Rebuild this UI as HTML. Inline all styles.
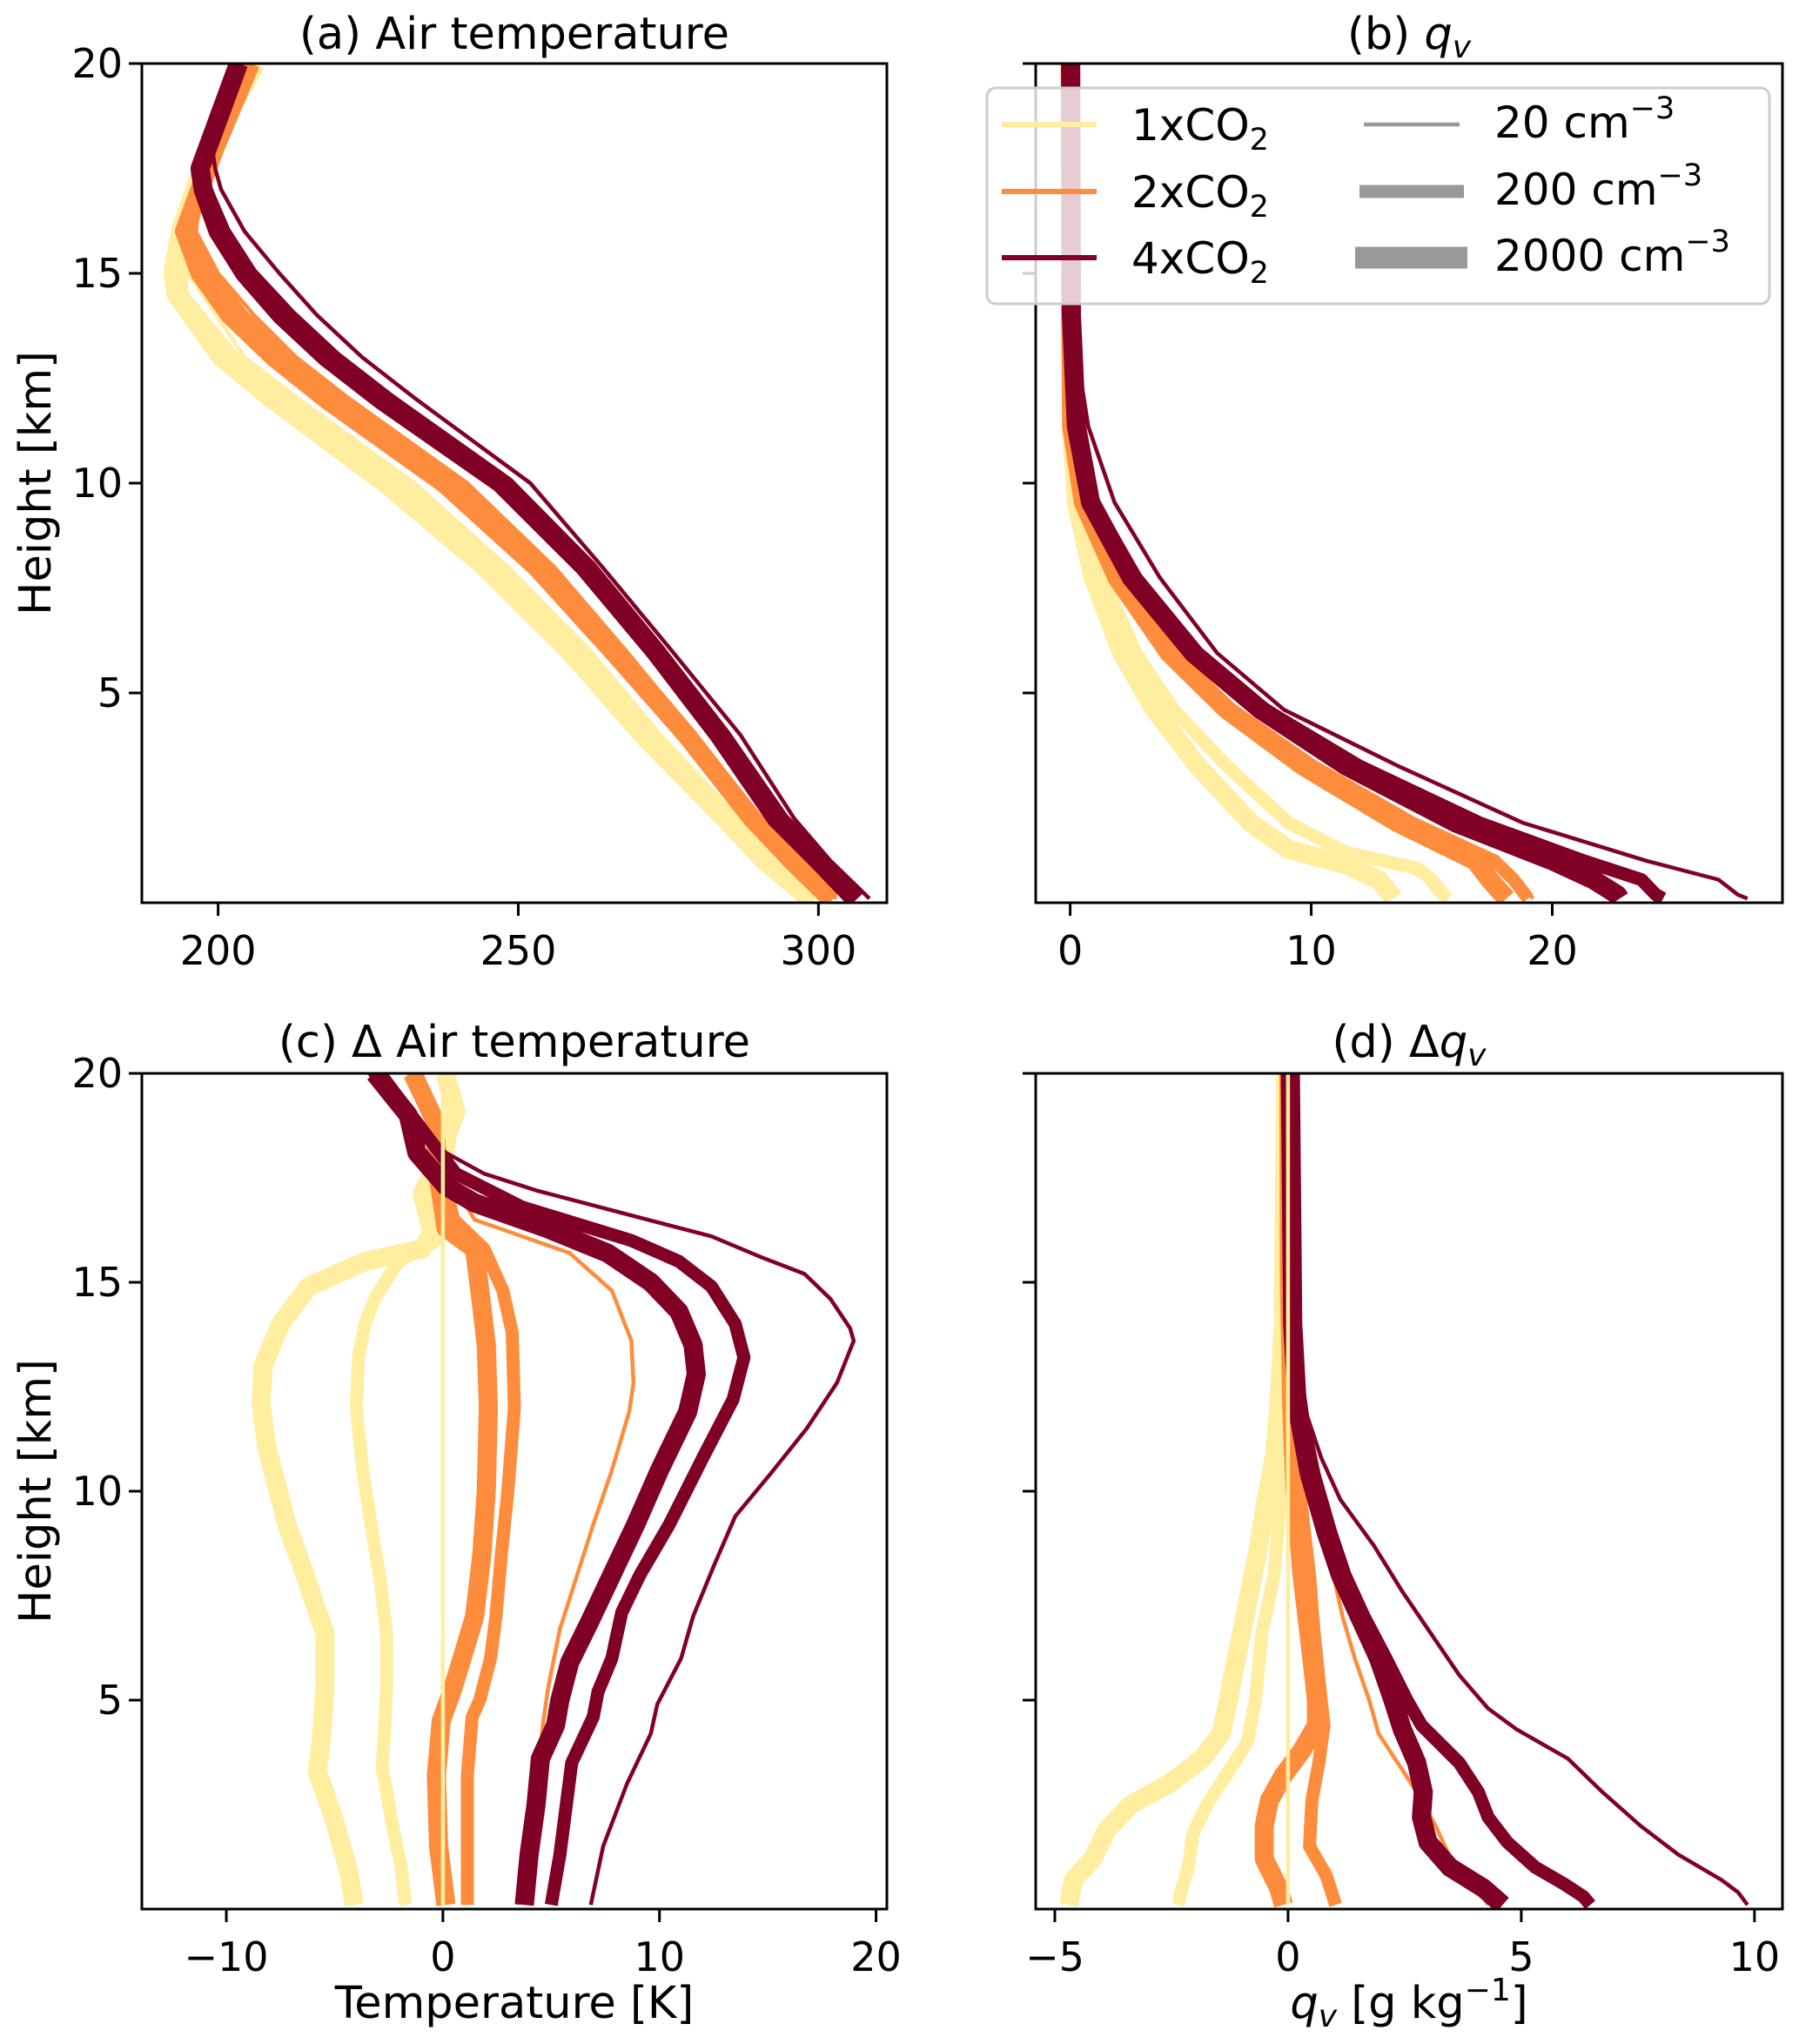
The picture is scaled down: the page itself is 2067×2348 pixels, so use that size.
<!DOCTYPE html>
<html><head><meta charset="utf-8">
<style>
html,body{margin:0;padding:0;background:#fff;}
svg{display:block;font-family:"DejaVu Sans","Liberation Sans",sans-serif;}
</style></head>
<body>
<svg id="fig" width="2067" height="2348" viewBox="0 0 2067 2348" xmlns="http://www.w3.org/2000/svg">
<rect width="2067" height="2348" fill="#fff"/>
<g id="plots"></g>
<!-- titles -->
<text x="591" y="56" font-size="51" text-anchor="middle">(a) Air temperature</text>
<text x="1619" y="56" font-size="51" text-anchor="middle">(b) <tspan font-style="italic">q</tspan><tspan font-style="italic" font-size="36" dy="10">v</tspan></text>
<text x="591" y="1214" font-size="51" text-anchor="middle">(c) Δ Air temperature</text>
<text x="1619" y="1214" font-size="51" text-anchor="middle">(d) Δ<tspan font-style="italic">q</tspan><tspan font-style="italic" font-size="36" dy="10">v</tspan></text>
<!-- axis labels -->
<text x="0" y="0" font-size="51" text-anchor="middle" transform="translate(58,555) rotate(-90)">Height [km]</text>
<text x="0" y="0" font-size="51" text-anchor="middle" transform="translate(58,1713) rotate(-90)">Height [km]</text>
<text x="591" y="2318" font-size="51" text-anchor="middle">Temperature [K]</text>
<text x="1619" y="2318" font-size="51" text-anchor="middle"><tspan font-style="italic">q</tspan><tspan font-style="italic" font-size="36" dy="10">v</tspan><tspan dy="-10"> [g kg</tspan><tspan font-size="36" dy="-20">−1</tspan><tspan dy="20">]</tspan></text>
<!-- legend -->
<g>
<rect x="1134" y="101" width="899" height="248" rx="10" fill="rgba(255,255,255,0.8)" stroke="#cccccc" stroke-width="3"/>
<line x1="1151" y1="143" x2="1260" y2="143" stroke="#ffeda0" stroke-width="6"/>
<line x1="1151" y1="220" x2="1260" y2="220" stroke="#fd8d3c" stroke-width="6"/>
<line x1="1151" y1="296" x2="1260" y2="296" stroke="#800026" stroke-width="6"/>
<text x="1300" y="161" font-size="50">1xCO<tspan font-size="35" dy="11">2</tspan></text>
<text x="1300" y="238" font-size="50">2xCO<tspan font-size="35" dy="11">2</tspan></text>
<text x="1300" y="314" font-size="50">4xCO<tspan font-size="35" dy="11">2</tspan></text>
<line x1="1567" y1="143" x2="1677" y2="143" stroke="#999" stroke-width="4.5"/>
<line x1="1562" y1="220" x2="1682" y2="220" stroke="#999" stroke-width="15"/>
<line x1="1557" y1="296" x2="1686" y2="296" stroke="#999" stroke-width="25"/>
<text x="1717" y="158" font-size="50">20 cm<tspan font-size="35" dy="-22">−3</tspan></text>
<text x="1717" y="235" font-size="50">200 cm<tspan font-size="35" dy="-22">−3</tspan></text>
<text x="1717" y="311" font-size="50">2000 cm<tspan font-size="35" dy="-22">−3</tspan></text>
</g>
</svg>
<script>
// ---- data: [height km, value] ----
const a_1x_2000=[[0.1,298.5],[1,291],[2,284.4],[4,270.7],[6,258.5],[8,244.4],[10,227.8],[12,209],[13,200.5],[14.5,193],[15,192.5],[16,193.7],[18,198.5],[20,206.3]];
const a_1x_200=[[0.1,299.5],[1,292.2],[2,285.8],[4,272.5],[6,260.5],[8,246.5],[10,230.5],[12,211.5],[13,202.5],[14.5,194],[15,193.8],[16,194.8],[18,199],[20,206]];
const a_1x_20=[[0.1,300],[1,293],[2,286.8],[4,273.7],[6,262],[8,248.3],[10,232.7],[12,213.5],[13,204.4],[15,195],[16,196],[17.5,198],[20,205.5]];
const a_2x_2000=[[0.1,302],[1,295.6],[2,289],[4,278],[6,265.7],[8,253],[10,237.6],[12,218],[13,209.3],[14,202],[15,197],[16,194.4],[18,199.5],[20,205.4]];
const a_2x_200=[[0.1,302.5],[1,296],[2,289.5],[4,278.7],[6,266.8],[8,254.4],[10,239.5],[12,220],[13,211],[14,204],[15,198.5],[16,195.5],[17,196.5],[18,199.5],[20,205]];
const a_2x_20=[[0.1,303],[1,296.6],[2,290],[4,279.5],[6,268],[8,256],[10,241.5],[12,222],[13,213],[14,206],[15,200],[16,196.3],[17,197],[18,199.5],[20,205]];
const a_4x_2000=[[0.1,306],[1,300],[2,293],[4,283.4],[6,272.7],[8,261],[10,247],[12,227],[13,218],[14,210.5],[15,204.4],[16,200],[17,197.5],[17.5,197],[20,203.4]];
const a_4x_200=[[0.1,306.5],[1,300.8],[2,294],[4,284.3],[6,273.5],[8,262],[10,248.2],[12,228.5],[13,219.5],[14,212],[15,205.5],[16,201],[17,198],[17.5,197.2],[20,203.4]];
const a_4x_20=[[0.1,308.5],[1,302],[2,296],[4,287],[6,275.6],[8,264],[10,252],[12,233],[13,224],[14,216.5],[15,210.2],[16,204.4],[17,200.5],[17.5,199.5],[18,199],[20,203]];

const b_1x_2000=[[0.1,13.4],[0.19,13.3],[0.55,12.8],[0.9,11.45],[1.27,9.07],[1.9,7.5],[3.26,5.3],[4.6,3.5],[5.95,2.14],[7.75,0.95],[9.54,0.26],[11.35,0.05],[14,0.02],[20,0]];
const b_1x_200=[[0.1,15.7],[0.19,15.5],[0.55,15.0],[0.82,14.4],[1.2,11.45],[1.9,9.07],[3.26,6.5],[4.6,4.3],[5.95,2.73],[7.75,1.35],[9.54,0.45],[11.35,0.1],[14,0.03],[20,0]];
const b_1x_20=[[0.1,15.4],[0.19,15.2],[0.55,14.7],[0.82,14.0],[1.2,11.2],[1.9,8.8],[3.26,6.3],[4.6,4.1],[5.95,2.6],[7.75,1.25],[9.54,0.4],[11.35,0.1],[14,0.03],[20,0]];
const b_2x_2000=[[0.1,18.1],[0.55,17.4],[1.0,16.8],[1.9,13.6],[3.26,9.66],[4.6,6.5],[5.95,4.1],[7.75,1.94],[9.54,0.55],[11.35,0.06],[14,0.02],[20,0]];
const b_2x_200=[[0.1,19.0],[0.55,18.4],[1.0,17.6],[1.9,14.2],[3.26,10.06],[4.6,6.7],[5.95,4.2],[7.75,2.05],[9.54,0.62],[11.35,0.1],[14,0.03],[20,0]];
const b_2x_20=[[0.1,19.2],[0.55,18.6],[1.0,17.8],[1.9,14.0],[3.26,9.66],[4.6,6.1],[5.95,4.12],[7.75,2.34],[9.54,0.75],[11.35,0.15],[14,0.04],[20,0]];
const b_4x_2000=[[0.1,22.8],[0.19,22.7],[0.55,21.7],[1.0,20],[1.9,16.0],[3.26,11.45],[4.6,7.9],[5.95,5.1],[7.75,2.53],[9.54,0.85],[11.35,0.26],[14,0.05],[20,0.02]];
const b_4x_200=[[0.1,24.6],[0.19,24.3],[0.55,23.7],[1.0,21.3],[1.9,17.0],[3.26,12.0],[4.6,8.1],[5.95,5.3],[7.75,2.73],[9.54,0.95],[11.35,0.32],[14,0.06],[20,0.02]];
const b_4x_20=[[0.1,28.1],[0.19,27.7],[0.55,26.9],[1.0,23.9],[1.9,18.8],[3.26,13.6],[4.6,8.87],[5.95,6.1],[7.75,3.72],[9.54,1.84],[11.35,0.75],[13,0.3],[15,0.1],[20,0.02]];

const c_1x_2000=[[0.1,-4.1],[0.9,-4.35],[2.1,-5.0],[3.3,-5.8],[4.1,-5.6],[5.3,-5.45],[6.6,-5.45],[7.9,-6.3],[9.2,-7.2],[11.1,-8.15],[12.1,-8.4],[13,-8.3],[14,-7.5],[14.9,-6.2],[15.5,-3.6],[15.8,-0.96],[16.2,-0.5],[17.1,-0.96],[18.1,-0.08],[19.1,0.6],[20,0.1]];
const c_1x_200=[[0.1,-1.72],[1,-1.94],[2.2,-2.4],[3.4,-2.8],[4.2,-2.7],[5.3,-2.6],[6.6,-2.6],[8,-2.93],[9,-3.26],[10.5,-3.7],[12,-4.0],[13.2,-3.9],[14,-3.6],[14.6,-3.15],[15.5,-2.05],[16,-0.3],[17,-0.5],[18,0.2],[19,0.5],[20,0.3]];
const c_1x_20=[[0.1,0],[5,0],[10,0],[15,0],[20,0]];
const c_2x_2000=[[0.1,0.14],[1.5,-0.2],[3.2,-0.3],[4.5,-0.08],[5.3,0.47],[6.2,1.0],[7,1.46],[8.5,1.8],[10,2.0],[12,2.1],[13.5,2.0],[14.4,1.8],[15.8,1.46],[16.3,0.14],[17.5,-0.2],[18.9,-0.4],[20,-1.4]];
const c_2x_200=[[0.1,1.13],[1.5,1.13],[3.2,1.13],[4.6,1.35],[5,1.7],[6,2.2],[7,2.45],[8.5,2.7],[10,3.0],[12,3.3],[13.8,3.2],[14.8,2.77],[15.8,1.9],[16.5,0.5],[17.5,0],[19,-0.6],[20,-1.2]];
const c_2x_20=[[0.1,3.43],[1.5,3.9],[3.3,4.4],[4.5,4.64],[5.3,4.86],[6.7,5.4],[8,6.2],[9.2,6.94],[10.5,7.8],[11.9,8.6],[12.6,8.8],[13.6,8.7],[14.8,7.8],[15.7,5.85],[16.5,1.46],[17.5,0.3],[19,-0.8],[20,-1.6]];
const c_4x_2000=[[0.1,3.76],[1.3,3.98],[2.5,4.3],[3.6,4.5],[4.4,5.2],[5,5.4],[5.9,5.85],[6.9,6.8],[8,7.8],[9.2,8.9],[10.5,10.0],[11.9,11.3],[12.8,11.7],[13.5,11.55],[14.3,10.9],[15,9.6],[15.7,7.6],[16.3,4.75],[16.9,1.46],[17.3,0.14],[18.1,-1.2],[19,-1.6],[20,-3.15]];
const c_4x_200=[[0.1,5.0],[1.3,5.4],[2.5,5.7],[3.5,5.95],[4.6,6.94],[5.2,7.16],[6,7.8],[7.1,8.26],[8,9.1],[9.2,10.45],[10.8,12.0],[12.2,13.4],[13.2,13.9],[14,13.5],[14.9,12.4],[15.5,10.9],[16,8.7],[16.8,3.65],[17.6,0.6],[18.5,-0.74],[20,-2.9]];
const c_4x_20=[[0.1,6.83],[1.5,7.4],[3,8.5],[4.2,9.6],[4.9,9.9],[6,11.0],[7,11.55],[8.2,12.5],[9.4,13.5],[10.4,15.1],[11.5,16.8],[12.6,18.2],[13.6,18.97],[13.9,18.8],[14.6,17.9],[15.2,16.7],[15.6,14.7],[16.1,12.4],[16.6,8.7],[17.2,4.3],[17.6,1.9],[18.1,0.14],[18.7,-1.6],[20,-3.4]];

const d_1x_2000=[[0.1,-4.7],[0.7,-4.6],[1.2,-4.19],[1.9,-3.88],[2.5,-3.37],[3.0,-2.55],[3.6,-1.84],[4.2,-1.43],[5,-1.28],[6.2,-1.07],[7.3,-0.87],[8.5,-0.66],[9.6,-0.5],[10.8,-0.3],[12,-0.2],[14,-0.1],[20,-0.05]];
const d_1x_200=[[0.1,-2.35],[0.4,-2.3],[1,-2.14],[1.8,-2.04],[2.5,-1.74],[3.2,-1.33],[4,-0.87],[5,-0.7],[6.6,-0.56],[8,-0.3],[10,-0.15],[13,-0.05],[20,0]];
const d_1x_20=[[0.1,0],[5,0],[10,0],[15,0],[20,0]];
const d_2x_2000=[[0.1,-0.1],[0.5,-0.2],[1.2,-0.51],[2,-0.51],[2.6,-0.4],[3.2,-0.1],[3.8,0.3],[4.4,0.61],[5,0.61],[6,0.51],[8,0.3],[10,0.15],[12,0.08],[15,0.03],[20,0.02]];
const d_2x_200=[[0.1,1.02],[0.8,0.82],[1.5,0.46],[2.6,0.51],[3.5,0.66],[4.4,0.77],[5,0.71],[6.6,0.56],[8,0.46],[10,0.25],[12,0.15],[15,0.05],[20,0.03]];
const d_2x_20=[[0.1,4.29],[0.4,4.13],[1,3.57],[2,3.16],[2.8,2.76],[3.5,2.35],[4.2,1.94],[5,1.74],[6,1.43],[7,1.17],[8,0.97],[9,0.71],[10,0.51],[11,0.3],[13,0.05],[20,0.02]];
const d_4x_2000=[[0.1,4.6],[0.5,4.19],[1,3.47],[1.6,3.0],[2.2,2.86],[2.8,2.9],[3.5,2.76],[4.3,2.45],[5,2.25],[6,1.94],[7,1.53],[8,1.12],[9,0.82],[10.4,0.46],[12,0.2],[14,0.1],[20,0.05]];
const d_4x_200=[[0.1,6.48],[0.3,6.33],[0.6,5.92],[1,5.3],[1.6,4.7],[2.2,4.29],[2.8,4.08],[3.5,3.67],[4.4,2.86],[5,2.55],[6,2.1],[7,1.63],[8,1.22],[9,0.92],[10.4,0.56],[12,0.26],[14,0.12],[20,0.1]];
const d_4x_20=[[0.1,9.85],[0.4,9.65],[0.7,9.29],[1.3,8.37],[2,7.55],[2.8,6.74],[3.6,6.0],[4.3,4.9],[4.8,4.29],[5.6,3.67],[6.6,3.06],[7.6,2.45],[8.7,1.84],[9.8,1.12],[10.8,0.71],[11.8,0.41],[13,0.26],[15,0.15],[20,0.1]];

const a_xticks=[200,250,300];
const b_xticks=[0,10,20];
const c_xticks=[-10,0,10,20];
const d_xticks=[-5,0,5,10];
const yticks=[5,10,15,20];

const NS="http://www.w3.org/2000/svg";
const root=document.getElementById('plots');
const COL={"1x":"#ffeda0","2x":"#fd8d3c","4x":"#800026"};
const LW={"2000":22,"200":15,"20":4.5};

function mk(tag,attrs,parent){const e=document.createElementNS(NS,tag);for(const k in attrs)e.setAttribute(k,attrs[k]);parent.appendChild(e);return e;}

function panel(id,box,xlim,xticks,showYLabels,series){
  const [x0,y0,x1,y1]=box;
  const g=mk('g',{},root);
  
  
  const sx=v=>x0+(v-xlim[0])/(xlim[1]-xlim[0])*(x1-x0);
  const sy=h=>y1-(h/20)*(y1-y0);
  const cid='clip-'+id;
  const cp=mk('clipPath',{id:cid},g);
  mk('rect',{x:x0,y:y0,width:x1-x0,height:y1-y0},cp);
  const lg=mk('g',{'clip-path':'url(#'+cid+')'},g);
  series.forEach(s=>{
    const pts=s.data.map(p=>sx(p[1]).toFixed(1)+','+sy(p[0]).toFixed(1)).join(' ');
    const pl=mk('polyline',{points:pts,fill:'none',stroke:COL[s.co2],'stroke-width':LW[s.n],'stroke-linejoin':'round'},lg);
    
    
  });
  const fr=mk('rect',{x:x0,y:y0,width:x1-x0,height:y1-y0,fill:'none',stroke:'#000','stroke-width':3},g);
  
  
  xticks.forEach(t=>{
    const x=sx(t);
    const tk=mk('line',{x1:x,y1:y1,x2:x,y2:y1+15,stroke:'#000','stroke-width':3},g);
    
    
    const tx=mk('text',{x:x,y:y1+71,'font-size':46,'text-anchor':'middle'},g);
    
    
    tx.textContent=(t<0?'\u2212'+(-t):String(t));
  });
  yticks.forEach(t=>{
    const y=sy(t);
    const tk=mk('line',{x1:x0-15,y1:y,x2:x0,y2:y,stroke:'#000','stroke-width':3},g);
    
    
    if(showYLabels){
      const tx=mk('text',{x:x0-22,y:y+16,'font-size':46,'text-anchor':'end'},g);
      
      
      tx.textContent=String(t);
    }
  });
}
function S(co2,n,data){return {co2:co2,n:n,data:data};}

panel('a',[163,73,1019,1037],[187.3,311.4],a_xticks,true,[
  S('1x','2000',a_1x_2000),S('1x','200',a_1x_200),S('1x','20',a_1x_20),
  S('2x','2000',a_2x_2000),S('2x','200',a_2x_200),S('2x','20',a_2x_20),
  S('4x','2000',a_4x_2000),S('4x','200',a_4x_200),S('4x','20',a_4x_20)]);
panel('b',[1190,73,2048,1037],[-1.43,29.55],b_xticks,false,[
  S('1x','2000',b_1x_2000),S('1x','200',b_1x_200),S('1x','20',b_1x_20),
  S('2x','2000',b_2x_2000),S('2x','200',b_2x_200),S('2x','20',b_2x_20),
  S('4x','2000',b_4x_2000),S('4x','200',b_4x_200),S('4x','20',b_4x_20)]);
panel('c',[163,1233,1019,2193],[-13.9,20.5],c_xticks,true,[
  S('1x','2000',c_1x_2000),S('1x','200',c_1x_200),
  S('2x','2000',c_2x_2000),S('2x','200',c_2x_200),S('2x','20',c_2x_20),
  S('4x','2000',c_4x_2000),S('4x','200',c_4x_200),S('4x','20',c_4x_20),S('1x','20',c_1x_20)]);
panel('d',[1190,1233,2048,2193],[-5.41,10.6],d_xticks,false,[
  S('1x','2000',d_1x_2000),S('1x','200',d_1x_200),
  S('2x','2000',d_2x_2000),S('2x','200',d_2x_200),S('2x','20',d_2x_20),
  S('4x','2000',d_4x_2000),S('4x','200',d_4x_200),S('4x','20',d_4x_20),S('1x','20',d_1x_20)]);
</script>
</body></html>
